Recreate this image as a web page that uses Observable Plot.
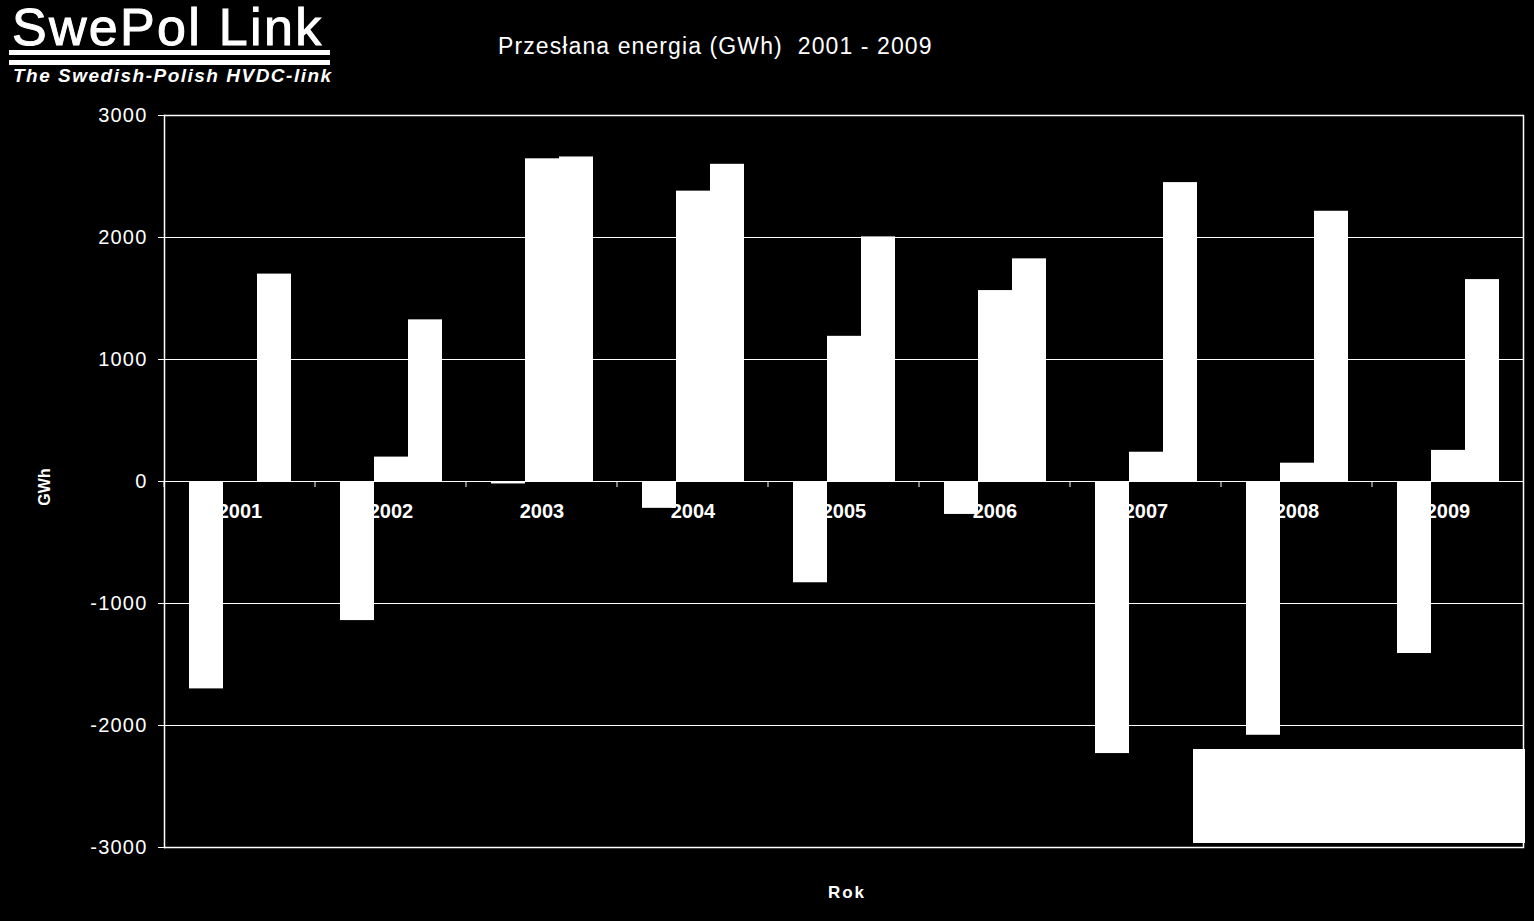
<!DOCTYPE html>
<html>
<head>
<meta charset="utf-8">
<script src="https://cdn.jsdelivr.net/npm/d3@7"></script>
<script src="https://cdn.jsdelivr.net/npm/@observablehq/plot@0.6"></script>
<style>
  html, body { margin: 0; padding: 0; background: #000; overflow: hidden; }
  #wrap { position: relative; width: 1534px; height: 921px; font-family: "Liberation Sans", Arial, sans-serif; color: #fff; }
  .abs { position: absolute; white-space: nowrap; }
  #chart { position: absolute; left: 0; top: 0; }
  #chart g[aria-label="y-axis tick label"] text { letter-spacing: 1.2px; }
</style>
</head>
<body>
<div id="wrap">
  <div id="chart"></div>
  <div class="abs" style="left:12px;top:1px;font-size:52px;letter-spacing:2.3px;line-height:52px;-webkit-text-stroke:1px #fff;">SwePol Link</div>
  <div class="abs" style="left:9px;top:50px;width:321px;height:5px;background:#fff;"></div>
  <div class="abs" style="left:9px;top:60px;width:321px;height:5px;background:#fff;"></div>
  <div class="abs" style="left:13px;top:66px;font-size:19px;line-height:20px;font-weight:bold;font-style:italic;letter-spacing:1.5px;">The Swedish-Polish HVDC-link</div>
  <div class="abs" style="left:498px;top:32px;font-size:23px;line-height:28px;letter-spacing:1.1px;">Przesłana energia (GWh)&nbsp; 2001 - 2009</div>
  <div class="abs" style="left:45px;top:487px;font-size:16px;font-weight:bold;transform:translate(-50%,-50%) rotate(-90deg);">GWh</div>
  <div class="abs" style="left:847px;top:893px;font-size:17px;font-weight:bold;letter-spacing:2px;transform:translate(-50%,-50%);">Rok</div>
  <div class="abs" style="left:1193px;top:749px;width:332px;height:94px;background:#fff;"></div>
</div>
<script>
const years = ["2001", "2002", "2003", "2004", "2005", "2006", "2007", "2008", "2009"];
const seriesNames = ["Seria 1", "Seria 2", "Seria 3"];
const series1 = [-1700, -1140, -20, -220, -830, -270, -2230, -2080, -1410];
const series2 = [0, 200, 2645, 2380, 1190, 1565, 240, 150, 255];
const series3 = [1700, 1325, 2660, 2600, 2005, 1825, 2450, 2215, 1655];
const yTicks = [-3000, -2000, -1000, 0, 1000, 2000, 3000];
const gridValues = [-2000, -1000, 0, 1000, 2000];
const frameValues = [-3000, 3000];

const seriesValues = [series1, series2, series3];
const rows = [];
years.forEach((year, i) => {
  seriesNames.forEach((s, j) => rows.push({year, series: s, value: seriesValues[j][i]}));
});

const boundaryTicks = (index, scales, values, dimensions) => {
  const y0 = scales.y(0);
  const x0 = dimensions.marginLeft;
  return d3.create("svg:line")
    .attr("x1", x0).attr("x2", x0)
    .attr("y1", y0).attr("y2", y0 + 6)
    .attr("stroke", "white").attr("stroke-width", 1)
    .node();
};

const chart = Plot.plot({
  width: 1534,
  height: 921,
  marginLeft: 163,
  marginRight: 11,
  marginTop: 115,
  marginBottom: 74,
  style: {background: "black", color: "white", fontFamily: "Liberation Sans, Arial, sans-serif"},
  fx: {domain: years, padding: 0, axis: null},
  x: {domain: seriesNames, paddingInner: 0, paddingOuter: 0.72, axis: null},
  y: {domain: [-3000, 3000]},
  marks: [
    Plot.ruleY(gridValues, {stroke: "white", strokeWidth: 1}),
    Plot.ruleY(frameValues, {stroke: "white", strokeWidth: 1.5}),
    Plot.frame({anchor: "left", fx: "2001", stroke: "white", strokeWidth: 1.5}),
    Plot.frame({anchor: "right", fx: "2009", stroke: "white", strokeWidth: 1.5}),
    Plot.axisY(yTicks, {tickSize: 6, tickPadding: 11, tickFormat: d => String(d), fontSize: 20, label: null, stroke: "white"}),
    boundaryTicks,
    Plot.text(years, {fx: d => d, y: 0, dy: 30, text: d => d, fill: "white", fontSize: 20, fontWeight: "bold"}),
    Plot.barY(rows, {fx: "year", x: "series", y: "value", fill: "white"})
  ]
});
document.getElementById("chart").appendChild(chart);
</script>
</body>
</html>
